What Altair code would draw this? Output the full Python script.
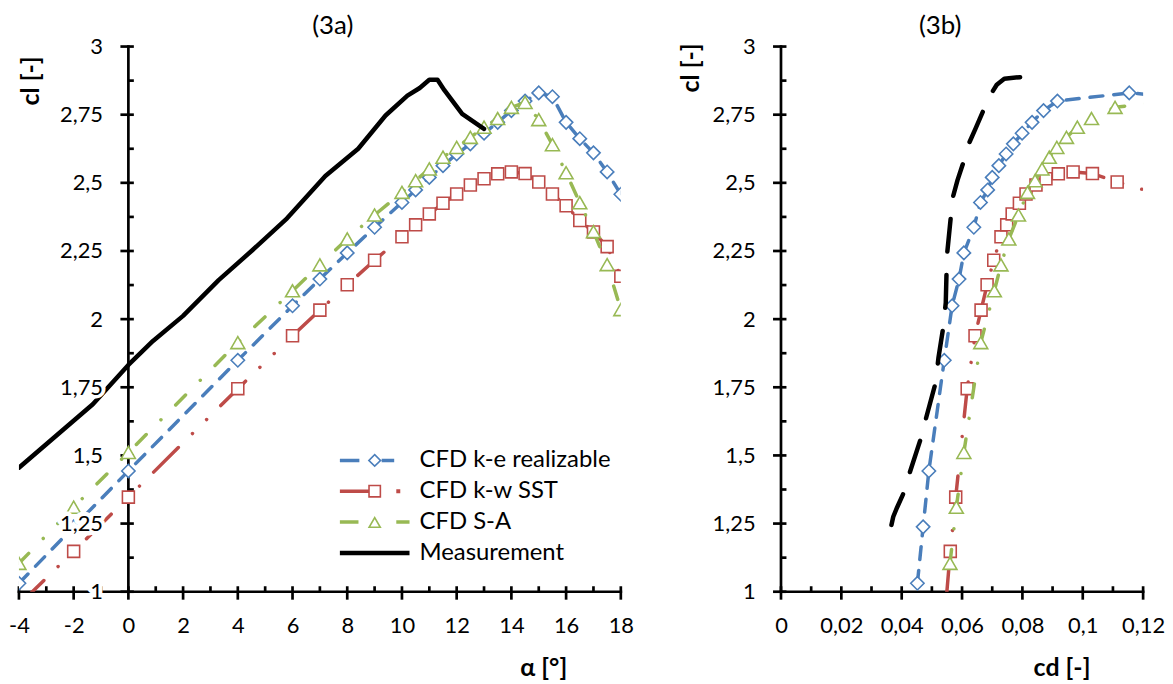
import altair as alt
import pandas as pd

FONT = "Lato"

# ---------------- data ----------------
series_names = ["CFD k-e realizable", "CFD k-w SST", "CFD S-A", "Measurement"]
series_colors = ["#4A7EBB", "#BE4B48", "#98B954", "#000000"]

alpha = [-4, -2, 0, 4, 6, 7, 8, 9, 10, 10.5, 11, 11.5, 12, 12.5, 13, 13.5,
         14, 14.5, 15, 15.5, 16, 16.5, 17, 17.5, 18]

cl_ke = [1.031, 1.238, 1.443, 1.849, 2.049, 2.147, 2.243, 2.337, 2.428, 2.474,
         2.520, 2.563, 2.606, 2.643, 2.682, 2.722, 2.765, 2.800, 2.830, 2.816,
         2.722, 2.662, 2.610, 2.540, 2.458]
cl_kw = [0.952, 1.148, 1.347, 1.745, 1.939, 2.033, 2.126, 2.216, 2.302, 2.346,
         2.386, 2.425, 2.459, 2.492, 2.515, 2.533, 2.540, 2.534, 2.503, 2.459,
         2.416, 2.362, 2.320, 2.266, 2.157]
cl_sa = [1.104, 1.310, 1.511, 1.914, 2.104, 2.199, 2.294, 2.382, 2.465, 2.508,
         2.551, 2.594, 2.630, 2.667, 2.704, 2.736, 2.777, 2.795, 2.732, 2.640,
         2.537, 2.427, 2.321, 2.200, 2.035]

cd_ke = [0.0452, 0.0471, 0.0490, 0.0541, 0.0567, 0.0590, 0.0606, 0.0639, 0.0661,
         0.0685, 0.0700, 0.0722, 0.0746, 0.0770, 0.0799, 0.0832, 0.0870, 0.0916,
         0.1154, 0.1300, 0.1450, 0.1600, 0.1750, 0.1900, 0.2050]
cd_kw = [0.0546, 0.0561, 0.0579, 0.0617, 0.0643, 0.0663, 0.0683, 0.0705, 0.0729,
         0.0748, 0.0766, 0.0790, 0.0812, 0.0845, 0.0878, 0.0919, 0.0968, 0.1032,
         0.1114, 0.1250, 0.1400, 0.1550, 0.1700, 0.1850, 0.2000]
cd_sa = [0.0560, 0.0581, 0.0606, 0.0662, 0.0707, 0.0729, 0.0755, 0.0787, 0.0817,
         0.0842, 0.0865, 0.0889, 0.0914, 0.0946, 0.0982, 0.1029, 0.1107, 0.1240,
         0.1400, 0.1550, 0.1700, 0.1850, 0.2000, 0.2150, 0.2300]

meas_alpha = [-4, -1.3, 0, 0.9, 2.0, 3.3, 4.5, 5.8, 7.2, 8.4, 9.4, 10.2, 10.65,
              11.0, 11.3, 11.55, 12.2, 13.0]
meas_cl = [1.455, 1.688, 1.832, 1.920, 2.012, 2.143, 2.250, 2.370, 2.525, 2.625,
           2.747, 2.820, 2.848, 2.878, 2.878, 2.840, 2.753, 2.698]

meas_cd_b = [0.0366, 0.0372, 0.0385, 0.0410, 0.0427, 0.0465, 0.0480, 0.0512,
             0.0522, 0.0537, 0.0546, 0.0548, 0.0550, 0.0563, 0.0567, 0.0585,
             0.0603, 0.0619, 0.0645, 0.0669, 0.0694, 0.0715, 0.0740, 0.0795]
meas_cl_b = [1.245, 1.275, 1.310, 1.371, 1.438, 1.568, 1.634, 1.765, 1.860, 1.965,
             2.060, 2.147, 2.233, 2.378, 2.437, 2.510, 2.570, 2.635, 2.700, 2.761,
             2.822, 2.860, 2.882, 2.888]

cl_ticks = [1, 1.25, 1.5, 1.75, 2, 2.25, 2.5, 2.75, 3]
cl_minor = [1.125, 1.375, 1.625, 1.875, 2.125, 2.375, 2.625, 2.875]
alpha_ticks = [-4, -2, 0, 2, 4, 6, 8, 10, 12, 14, 16, 18]
alpha_minor = [-3, -1, 1, 3, 5, 7, 9, 11, 13, 15, 17]
cd_ticks = [0, 0.02, 0.04, 0.06, 0.08, 0.1, 0.12]
cd_minor = [0.01, 0.03, 0.05, 0.07, 0.09, 0.11]

# ---------------- tables ----------------
rows = []
for name, cls, cds in zip(series_names[:3], [cl_ke, cl_kw, cl_sa], [cd_ke, cd_kw, cd_sa]):
    for i, (a, c, d) in enumerate(zip(alpha, cls, cds)):
        rows.append({"series": name, "alpha": a, "cl": c, "cd": d, "idx": i})
cfd = pd.DataFrame(rows)
meas_a = pd.DataFrame({"alpha": meas_alpha, "cl": meas_cl, "idx": list(range(len(meas_cl)))})
meas_b = pd.DataFrame({"cd": meas_cd_b, "cl": meas_cl_b, "idx": list(range(len(meas_cl_b)))})

# ---------------- styles ----------------
LW = 3.5
line_dash = {
    series_names[0]: [13, 11],
    series_names[1]: [35, 20, 0.01, 20, 0.01, 20],
    series_names[2]: [14, 21, 0.01, 21],
}
marker_shape = {series_names[0]: "diamond", series_names[1]: "square", series_names[2]: "triangle-up"}
marker_size = {series_names[0]: 180, series_names[1]: 144, series_names[2]: 196}

# legend symbols (line sample + open marker), unit = 10 px (symbol size 400)
legend_paths = [
    "M-3.5,-0.175H-1.54V0.175H-3.5Z M0,-0.7L0.7,0L0,0.7L-0.7,0Z "
    "M0,-0.47L-0.47,0L0,0.47L0.47,0Z M0.7,-0.175H1.96V0.175H0.7Z",
    "M-3.5,-0.175H-0.65V0.175H-3.5Z M-0.65,-0.65H0.65V0.65H-0.65Z "
    "M-0.49,-0.49V0.49H0.49V-0.49Z M2.17,-0.2H2.57V0.2H2.17Z",
    "M-3.5,-0.175H-1.63V0.175H-3.5Z M0,-0.6L0.7,0.6H-0.7Z "
    "M0,-0.28L-0.42,0.44H0.42Z M2.17,-0.175H3.5V0.175H2.17Z",
    "M-3.5,-0.225H3.5V0.225H-3.5Z",
]

H = 548
TICK_W = 2.7
label_common = dict(labelFont=FONT, labelFontSize=22, labelColor="black", labelOverlap=False,
                    ticks=False, tickSize=0, grid=False, domain=False, zindex=1,
                    titleFont=FONT, titleFontSize=25, titleFontWeight="bold", titleColor="black",
                    titleAlign="center", titleBaseline="middle")
cl_expr = "replace(toString(datum.value), '.', ',')"


def panel(xfield, xdom, xticks, xminor, xtitle, xexpr, width, y_offset, ytx, yty, xtx, xty,
          meas_df, meas_dash, title, title_dx, title_offset, legend_layer=None, halo=False):
    xs = alt.Scale(domain=xdom, nice=False, zero=False)
    ys = alt.Scale(domain=[1, 3], nice=False, zero=False)
    xa = alt.Axis(title=xtitle, values=xticks, labelExpr=xexpr, labelPadding=24, labelFlush=False,
                  titleX=xtx, titleY=xty, **label_common)
    ya = alt.Axis(title="cl [-]", values=cl_ticks, labelExpr=cl_expr, labelPadding=26, offset=y_offset,
                  titleAngle=270, titleX=ytx, titleY=yty, **label_common)

    def X(f):
        return alt.X(f, type="quantitative", scale=xs, axis=xa)

    def Y(f):
        return alt.Y(f, type="quantitative", scale=ys, axis=ya)

    xd = alt.XDatum(0, type="quantitative", scale=xs, axis=xa)
    yd = alt.YDatum(1, type="quantitative", scale=ys, axis=ya)
    layers = []

    # axis lines (y axis crosses at 0, x axis at cl = 1)
    layers.append(alt.Chart(pd.DataFrame({"a": [1], "b": [3]})).mark_rule(
        color="black", strokeWidth=TICK_W, strokeCap="square")
        .encode(x=xd, y=Y("a"), y2="b"))
    layers.append(alt.Chart(pd.DataFrame({"a": [xdom[0]], "b": [xdom[1]]})).mark_rule(
        color="black", strokeWidth=TICK_W, strokeCap="square")
        .encode(x=X("a"), x2="b", y=yd))
    # tick marks (major ticks cross the axis line, minor ticks point inward)
    layers.append(alt.Chart(pd.DataFrame({"v": cl_ticks})).mark_tick(
        orient="horizontal", size=13.5, thickness=TICK_W, xOffset=-1.25, color="black", opacity=1)
        .encode(x=xd, y=Y("v")))
    layers.append(alt.Chart(pd.DataFrame({"v": cl_minor})).mark_tick(
        orient="horizontal", size=5.5, thickness=TICK_W, xOffset=2.75, color="black", opacity=1)
        .encode(x=xd, y=Y("v")))
    layers.append(alt.Chart(pd.DataFrame({"v": xticks})).mark_tick(
        orient="vertical", size=13.5, thickness=TICK_W, yOffset=1.25, color="black", opacity=1)
        .encode(x=X("v"), y=yd))
    layers.append(alt.Chart(pd.DataFrame({"v": xminor})).mark_tick(
        orient="vertical", size=5.5, thickness=TICK_W, yOffset=-2.75, color="black", opacity=1)
        .encode(x=X("v"), y=yd))

    for name, color in zip(series_names[:3], series_colors[:3]):
        d = cfd[cfd.series == name]
        base = alt.Chart(d)
        layers.append(base.mark_line(color=color, strokeWidth=LW, strokeDash=line_dash[name],
                                     strokeCap="round", strokeJoin="round", clip=True)
                      .encode(x=X(xfield), y=Y("cl"), order=alt.Order("idx:Q")))
        layers.append(base.mark_point(shape=marker_shape[name], size=marker_size[name], filled=True,
                                      fill="white", stroke=color, strokeWidth=1.6, opacity=1, clip=True)
                      .encode(x=X(xfield), y=Y("cl")))
    mline = dict(color="black", strokeWidth=4.5, strokeCap="round", strokeJoin="round", clip=True)
    if meas_dash:
        mline["strokeDash"] = meas_dash
    layers.append(alt.Chart(meas_df).mark_line(**mline)
                  .encode(x=X(xfield), y=Y("cl"), order=alt.Order("idx:Q")))

    if halo:
        # white background behind the y tick labels that sit inside the plot (as in the original)
        layers.append(alt.Chart(pd.DataFrame({"v": cl_ticks}))
                      .transform_calculate(lab="replace(toString(datum.v), '.', ',')")
                      .mark_text(align="right", baseline="middle", dx=-26, font=FONT, fontSize=22,
                                 fill="white", stroke="white", strokeWidth=9, strokeJoin="round")
                      .encode(x=xd, y=Y("v"), text="lab:N"))
    if legend_layer is not None:
        layers.append(legend_layer)

    return alt.layer(*layers).properties(
        width=width, height=H,
        title=alt.TitleParams(title, font=FONT, fontSize=26, fontWeight="normal", color="black",
                              anchor="middle", frame="group", dx=title_dx, offset=title_offset),
    )


leg = alt.Legend(orient="none", legendX=345.6, legendY=404, title=None, padding=0,
                 labelFont=FONT, labelFontSize=24, labelColor="black", labelOffset=33,
                 symbolSize=400, symbolStrokeWidth=0, symbolOpacity=1, rowPadding=7,
                 labelLimit=400, direction="vertical")
legend_layer = alt.Chart(pd.DataFrame({"series": series_names})).transform_filter(
    "datum.series == ''").mark_point(filled=True, size=400, opacity=1).encode(
    shape=alt.Shape("series:N", scale=alt.Scale(domain=series_names, range=legend_paths), legend=leg),
    color=alt.Color("series:N", scale=alt.Scale(domain=series_names, range=series_colors), legend=leg),
)

WA = 605
WB = 364
left = panel("alpha", [-4, 18], alpha_ticks, alpha_minor, "α [°]", "toString(datum.value)", WA,
             -WA * 4 / 22, -98, 34, 527, 76, meas_a, None, "(3a)", 13, -3, legend_layer, halo=True)
right = panel("cd", [0, 0.12], cd_ticks, cd_minor, "cd [-]", cl_expr, WB,
              0, -91, 21, 282, 76, meas_b, [33, 23.5], "(3b)", -22, -3)

chart = alt.hconcat(left, right, spacing=45).resolve_scale(
    color="independent", shape="independent").properties(
    padding={"left": 0, "top": 3, "right": 0, "bottom": 0}).configure_view(stroke=None)

chart.save("out.html", embed_options={"renderer": "svg", "actions": False})
